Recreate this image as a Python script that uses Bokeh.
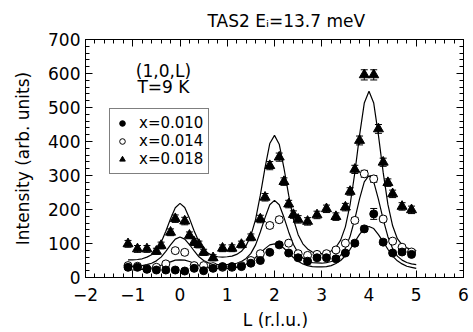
from bokeh.plotting import figure
from bokeh.models import (ColumnDataSource, Whisker, TeeHead, Legend, LegendItem,
                          LinearAxis, Label, Range1d, SingleIntervalTicker, FixedTicker)
from bokeh.embed import file_html
from bokeh.resources import INLINE

FONT = "DejaVu Sans"

# ---- data: x = 0.010 (filled circles)
L_010 = [-1.1, -0.9, -0.7, -0.5, -0.3, -0.1, 0.1, 0.3, 0.5, 0.7, 0.9, 1.1, 1.3, 1.5, 1.7,
         1.9, 2.1, 2.3, 2.5, 2.7, 2.9, 3.1, 3.3, 3.5, 3.7, 3.9, 4.1, 4.3, 4.5, 4.7, 4.9]
I_010 = [30, 30, 24, 22, 22, 22, 19, 27, 20, 27, 32, 32, 32, 42, 50,
         74, 96, 72, 58, 48, 58, 58, 55, 72, 101, 143, 187, 104, 72, 75, 68]
E_010 = [6, 6, 6, 6, 6, 6, 6, 6, 6, 6, 6, 6, 6, 6, 6,
         6, 7, 6, 6, 6, 6, 6, 6, 6, 7, 8, 16, 7, 6, 6, 6]

# ---- data: x = 0.014 (open circles)
L_014 = [-1.1, -0.9, -0.7, -0.5, -0.3, -0.1, 0.1, 0.3, 0.5, 0.7, 0.9, 1.1, 1.3, 1.5, 1.7,
         1.9, 2.1, 2.3, 2.5, 2.7, 2.9, 3.1, 3.3, 3.5, 3.7, 3.9, 4.1, 4.3, 4.5, 4.7, 4.9]
I_014 = [35, 33, 26, 30, 40, 79, 74, 35, 35, 32, 30, 30, 35, 50, 70,
         153, 170, 101, 70, 65, 68, 70, 81, 101, 168, 305, 290, 172, 107, 89, 75]
E_014 = [6, 6, 6, 6, 6, 7, 7, 6, 6, 6, 6, 6, 6, 6, 6,
         8, 8, 7, 6, 6, 6, 6, 6, 7, 8, 10, 10, 8, 7, 6, 6]

# ---- data: x = 0.018 (filled triangles)
L_018 = [-1.1, -0.9, -0.7, -0.5, -0.4, -0.2, -0.1, 0.1, 0.2, 0.3, 0.4, 0.5, 0.7, 0.9, 1.1,
         1.3, 1.5, 1.7, 1.8, 1.9, 2.1, 2.2, 2.3, 2.4, 2.5, 2.7, 2.9, 3.1, 3.3, 3.5, 3.6,
         3.7, 3.8, 3.9, 4.1, 4.2, 4.3, 4.4, 4.5, 4.7, 4.9]
I_018 = [99, 84, 84, 77, 94, 133, 173, 166, 124, 104, 97, 74, 58, 86, 86,
         97, 118, 172, 236, 329, 354, 282, 216, 185, 171, 165, 184, 202, 179, 207, 253,
         318, 403, 596, 596, 437, 339, 279, 246, 209, 199]
E_018 = [10, 10, 10, 9, 10, 10, 11, 11, 10, 10, 10, 9, 9, 10, 10,
         10, 10, 11, 11, 12, 12, 11, 11, 11, 11, 11, 11, 11, 11, 11, 11,
         12, 13, 15, 15, 13, 12, 11, 11, 11, 11]

# ---- fitted curves
L_fit = [-1.1, -1.0, -0.9, -0.8, -0.7, -0.6, -0.5, -0.4, -0.3, -0.2,
         -0.1, 0.0, 0.1, 0.2, 0.3, 0.4, 0.5, 0.6, 0.7, 0.8,
         0.9, 1.0, 1.1, 1.2, 1.3, 1.4, 1.5, 1.6, 1.7, 1.8,
         1.9, 2.0, 2.1, 2.2, 2.3, 2.4, 2.5, 2.6, 2.7, 2.8,
         2.9, 3.0, 3.1, 3.2, 3.3, 3.4, 3.5, 3.6, 3.7, 3.8,
         3.9, 4.0, 4.1, 4.2, 4.3, 4.4, 4.5, 4.6, 4.7, 4.8,
         4.9, 5.0]
fit_018 = [52, 52, 53, 55, 60, 67, 81, 103, 136, 173,
           205, 218, 206, 174, 137, 105, 84, 71, 64, 61,
           60, 61, 63, 68, 77, 94, 123, 171, 242, 323,
           394, 418, 392, 322, 242, 172, 126, 99, 84, 75,
           70, 70, 72, 78, 89, 110, 149, 214, 308, 418,
           513, 548, 513, 418, 309, 215, 152, 114, 96, 87,
           82, 79]
fit_014 = [33, 33, 34, 35, 38, 42, 49, 60, 77, 96,
           113, 119, 113, 97, 78, 61, 50, 43, 40, 38,
           38, 38, 40, 42, 47, 56, 71, 96, 134, 176,
           214, 227, 214, 177, 134, 97, 72, 57, 48, 44,
           43, 42, 44, 47, 53, 65, 86, 121, 172, 231,
           281, 300, 281, 230, 171, 120, 85, 63, 51, 44,
           40, 38]
fit_010 = [22, 22, 23, 24, 25, 28, 31, 36, 41, 46,
           51, 52, 51, 47, 42, 36, 32, 29, 27, 26,
           26, 26, 27, 30, 33, 39, 47, 59, 72, 85,
           96, 99, 96, 86, 72, 59, 48, 40, 35, 32,
           31, 31, 32, 35, 41, 50, 64, 83, 105, 127,
           144, 150, 144, 126, 105, 83, 63, 49, 40, 33,
           30, 27]

labels = ["x=0.010", "x=0.014", "x=0.018"]
title_text = "TAS2 E\u1d62=13.7 meV"
x_title = "L (r.l.u.)"
y_title = "Intensity (arb. units)"

# tick positions for the mirrored (label-free) top / right axes
x_major_ticks = [-2, -1, 0, 1, 2, 3, 4, 5, 6]
x_minor_ticks = [-1.8, -1.6, -1.4, -1.2, -0.8, -0.6, -0.4, -0.2, 0.2, 0.4, 0.6, 0.8,
                 1.2, 1.4, 1.6, 1.8, 2.2, 2.4, 2.6, 2.8, 3.2, 3.4, 3.6, 3.8,
                 4.2, 4.4, 4.6, 4.8, 5.2, 5.4, 5.6, 5.8]
y_major_ticks = [0, 100, 200, 300, 400, 500, 600, 700]
y_minor_ticks = [20, 40, 60, 80, 120, 140, 160, 180, 220, 240, 260, 280,
                 320, 340, 360, 380, 420, 440, 460, 480, 520, 540, 560, 580,
                 620, 640, 660, 680]

p = figure(width=473, height=332, output_backend="svg", toolbar_location=None,
           x_range=Range1d(-2, 6), y_range=Range1d(0, 700),
           min_border_left=85, min_border_right=10, min_border_top=39, min_border_bottom=55,
           y_axis_label=y_title, title=title_text)
p.background_fill_color = "white"
p.border_fill_color = "white"
p.outline_line_color = "black"
p.outline_line_width = 1
p.xgrid.grid_line_color = None
p.ygrid.grid_line_color = None

p.title.text_font = FONT
p.title.text_font_size = "17px"
p.title.text_font_style = "normal"
p.title.text_color = "black"
p.title.align = "left"
p.title.offset = 122
p.title.standoff = 17


def style_axis(ax, ticker):
    ax.ticker = ticker
    ax.major_tick_in = 7
    ax.major_tick_out = 0
    ax.minor_tick_in = 4
    ax.minor_tick_out = 0
    ax.axis_line_color = "black"
    ax.major_tick_line_color = "black"
    ax.minor_tick_line_color = "black"
    ax.major_label_text_font = FONT
    ax.major_label_text_color = "black"
    ax.major_label_text_font_size = "17px"
    ax.axis_label_text_font = FONT
    ax.axis_label_text_font_size = "17px"
    ax.axis_label_text_font_style = "normal"
    ax.axis_label_text_color = "black"


style_axis(p.xaxis[0], SingleIntervalTicker(interval=1, num_minor_ticks=5))
style_axis(p.yaxis[0], SingleIntervalTicker(interval=100, num_minor_ticks=5))
p.xaxis[0].major_label_standoff = 10
p.yaxis[0].major_label_standoff = 5
p.yaxis[0].axis_label_standoff = 12


def mirror_axis(ticks, length):
    # an axis with no major ticks (hence no labels); its "minor" ticks carry the marks
    ax = LinearAxis(ticker=FixedTicker(ticks=[], minor_ticks=ticks))
    ax.major_tick_in = 0
    ax.major_tick_out = 0
    ax.minor_tick_in = length
    ax.minor_tick_out = 0
    ax.major_label_standoff = 0
    ax.axis_line_color = "black"
    ax.minor_tick_line_color = "black"
    return ax


p.add_layout(mirror_axis(x_major_ticks, 7), "above")
p.add_layout(mirror_axis(x_minor_ticks, 4), "above")
p.add_layout(mirror_axis(y_major_ticks, 7), "right")
p.add_layout(mirror_axis(y_minor_ticks, 4), "right")

# x-axis title as a label in the panel below the frame
p.add_layout(Label(x=190, y=4, x_units="screen", y_units="screen", text=x_title,
                   text_align="center", text_baseline="middle", text_font=FONT,
                   text_font_size="17px", text_color="black"), "below")

# fitted curves
for fy in (fit_010, fit_014, fit_018):
    p.line(L_fit, fy, line_color="black", line_width=1.2)

# error bars
for Ls, Is, Es in ((L_010, I_010, E_010), (L_014, I_014, E_014), (L_018, I_018, E_018)):
    src = ColumnDataSource(dict(base=Ls,
                                upper=[i + e for i, e in zip(Is, Es)],
                                lower=[i - e for i, e in zip(Is, Es)]))
    w = Whisker(source=src, base="base", upper="upper", lower="lower", dimension="height",
                line_color="black", line_width=1,
                upper_head=TeeHead(size=7, line_color="black", line_width=1),
                lower_head=TeeHead(size=7, line_color="black", line_width=1))
    p.add_layout(w)

r014 = p.scatter(L_014, I_014, marker="circle", size=8, fill_color="white",
                 line_color="black", line_width=1)
r010 = p.scatter(L_010, I_010, marker="circle", size=8, fill_color="black",
                 line_color="black")
r018 = p.scatter(L_018, I_018, marker="triangle", size=10, fill_color="black",
                 line_color="black")

legend = Legend(items=[LegendItem(label=labels[0], renderers=[r010]),
                       LegendItem(label=labels[1], renderers=[r014]),
                       LegendItem(label=labels[2], renderers=[r018])],
                location=(24, 103))
legend.border_line_color = "black"
legend.border_line_width = 1
legend.background_fill_color = "white"
legend.background_fill_alpha = 1
legend.label_text_font = FONT
legend.label_text_font_size = "15px"
legend.label_text_color = "black"
legend.padding = 5
legend.spacing = 0
legend.margin = 0
legend.glyph_width = 14
legend.glyph_height = 14
legend.label_height = 14
legend.label_standoff = 10
p.add_layout(legend)

p.add_layout(Label(x=-0.35, y=606, text="(1,0,L)", text_align="center",
                   text_baseline="middle", text_font=FONT, text_font_size="17px",
                   text_color="black"))
p.add_layout(Label(x=-0.35, y=559, text="T=9 K", text_align="center",
                   text_baseline="middle", text_font=FONT, text_font_size="17px",
                   text_color="black"))

open("out.html", "w").write(file_html(p, INLINE))
